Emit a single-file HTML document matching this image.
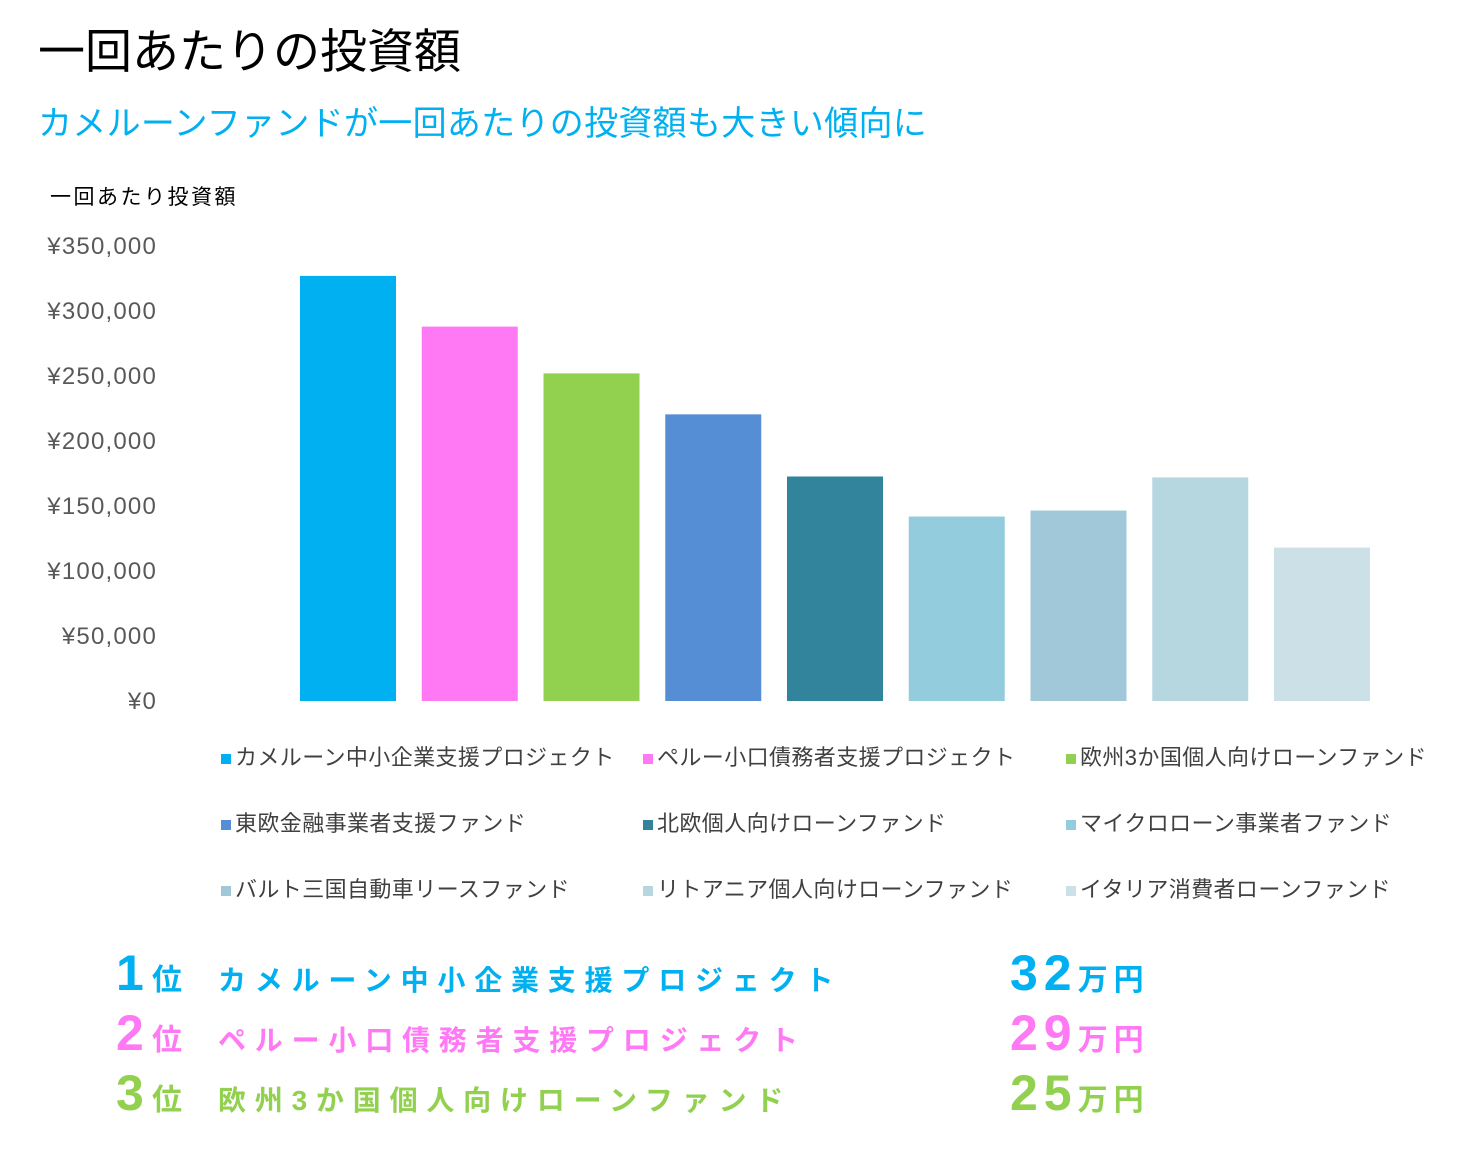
<!DOCTYPE html>
<html><head><meta charset="utf-8">
<style>
body{margin:0;width:1475px;height:1156px;background:#fff;font-family:"Liberation Sans","Noto Sans CJK JP",sans-serif;overflow:hidden;position:relative}
.abs{position:absolute;white-space:nowrap}
.rank{position:absolute;white-space:nowrap;font-weight:bold;display:flex;align-items:baseline}
.rank .n{font-size:50px;width:36px}
.rank .i{font-size:30px;width:66px}
.rank .t{font-size:28px;letter-spacing:8.8px}
.amt{position:absolute;font-weight:bold;display:flex;align-items:baseline}
.amt .n{font-size:50px;letter-spacing:6px}
.amt .u{font-size:30px;letter-spacing:6px}
</style></head><body>
<div class="abs" style="left:38px;top:13px;font-size:47px;color:#000">一回あたりの投資額</div>
<div class="abs" style="left:38px;top:96px;font-size:34px;color:#00B0F0;letter-spacing:0.3px">カメルーンファンドが一回あたりの投資額も大きい傾向に</div>
<div class="abs" style="left:50px;top:181px;font-size:21px;color:#000;letter-spacing:2.5px">一回あたり投資額</div>
<svg id="chart" width="1475" height="920" style="position:absolute;left:0;top:0"></svg>
<div id="legend"></div>

<div class="rank" style="left:116px;top:944px;color:#00B0F0"><span class="n">1</span><span class="i">位</span><span class="t">カメルーン中小企業支援プロジェクト</span></div>
<div class="rank" style="left:116px;top:1004px;color:#FF79F5"><span class="n">2</span><span class="i">位</span><span class="t">ペルー小口債務者支援プロジェクト</span></div>
<div class="rank" style="left:116px;top:1064px;color:#92D050"><span class="n">3</span><span class="i">位</span><span class="t">欧州3か国個人向けローンファンド</span></div>
<div class="amt" style="left:1010px;top:944px;color:#00B0F0"><span class="n">32</span><span class="u">万円</span></div>
<div class="amt" style="left:1010px;top:1004px;color:#FF79F5"><span class="n">29</span><span class="u">万円</span></div>
<div class="amt" style="left:1010px;top:1064px;color:#92D050"><span class="n">25</span><span class="u">万円</span></div>

<script>
const categories=["カメルーン中小企業支援プロジェクト","ペルー小口債務者支援プロジェクト","欧州3か国個人向けローンファンド","東欧金融事業者支援ファンド","北欧個人向けローンファンド","マイクロローン事業者ファンド","バルト三国自動車リースファンド","リトアニア個人向けローンファンド","イタリア消費者ローンファンド"];
const values=[327000,288000,252000,220500,172700,141900,146500,172000,118000];
const colors=["#00B0F0","#FF79F5","#92D050","#558ED5","#31849B","#93CDDD","#A0C8D8","#B7D7E0","#CCE0E8"];
const ticks=[0,50000,100000,150000,200000,250000,300000,350000];
const tickLabels=["¥0","¥50,000","¥100,000","¥150,000","¥200,000","¥250,000","¥300,000","¥350,000"];

const NS="http://www.w3.org/2000/svg";
const svg=document.getElementById('chart');
const y0=701,y1=246,yMax=350000;
const yScale=v=>y0-(v/yMax)*(y0-y1);
const xStart=300,step=121.75,bw=96;
const xScale=i=>xStart+i*step;
ticks.forEach((t,i)=>{
  const tx=document.createElementNS(NS,'text');
  
  
  tx.setAttribute('x',157);tx.setAttribute('y',yScale(t)+8);
  tx.setAttribute('text-anchor','end');tx.setAttribute('font-size','24');tx.setAttribute('fill','#595959');
  tx.setAttribute('letter-spacing','1.2');
  tx.setAttribute('font-family','"Liberation Sans",sans-serif');
  tx.textContent=tickLabels[i];svg.appendChild(tx);
});
values.forEach((v,i)=>{
  const r=document.createElementNS(NS,'rect');
  
  
  r.setAttribute('x',xScale(i));r.setAttribute('y',yScale(v));
  r.setAttribute('width',bw);r.setAttribute('height',y0-yScale(v));
  r.setAttribute('fill',colors[i]);svg.appendChild(r);
});
const lg=document.getElementById('legend');
const lx=[221,643,1066],ly=[755,821,887];
categories.forEach((c,i)=>{
  const d=document.createElement('div');
  
  
  d.className='abs';
  d.style.left=lx[i%3]+'px';d.style.top=(ly[Math.floor(i/3)]-15)+'px';
  d.style.fontSize='22px';d.style.color='#404040';d.style.letterSpacing='0.4px';
  d.innerHTML='<span style="display:inline-block;width:10px;height:10px;background:'+colors[i]+';margin-right:4px;vertical-align:middle"></span>'+c;
  lg.appendChild(d);
});
</script>
</body></html>
